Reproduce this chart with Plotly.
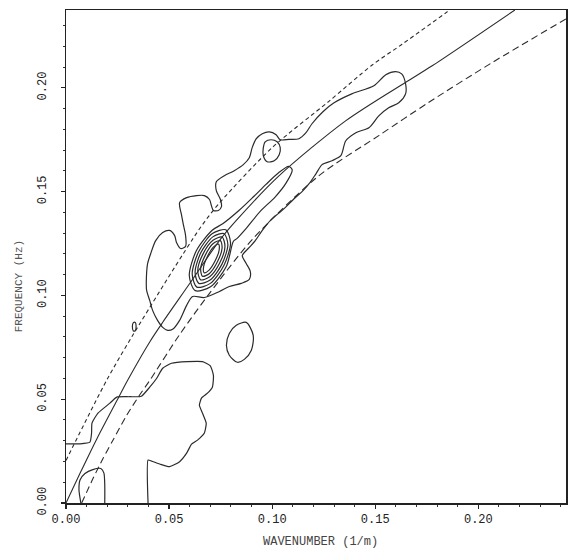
import plotly.graph_objects as go

# ---------------- data (wavenumber k in 1/m, frequency f in Hz) ----------------
# dispersion curve (solid)
disp_k = [0, 0.0068, 0.015, 0.0245, 0.0301, 0.0406, 0.047, 0.0599, 0.0744, 0.0825,
          0.1034, 0.1356, 0.1646, 0.1774, 0.2177]
disp_f = [0, 0.0143, 0.031, 0.049, 0.0595, 0.0776, 0.0872, 0.1056, 0.1264, 0.136,
          0.1577, 0.1841, 0.2026, 0.2105, 0.2375]

# upper bound (short dashes)
upper_k = [0, 0.0197, 0.0328, 0.0647, 0.0744, 0.1001, 0.1275, 0.1485, 0.163, 0.1847, 0.186]
upper_f = [0.0205, 0.0591, 0.0815, 0.132, 0.1445, 0.1713, 0.1935, 0.211, 0.221, 0.2365, 0.2375]

# lower bound (longer dashes)
lower_k = [0.0076, 0.0132, 0.018, 0.0229, 0.0293, 0.0357, 0.0406, 0.055, 0.0696, 0.0904,
           0.1227, 0.1517, 0.1758, 0.2064, 0.2425]
lower_f = [0, 0.012, 0.0215, 0.0305, 0.042, 0.052, 0.059, 0.081, 0.101, 0.127,
           0.1577, 0.177, 0.1929, 0.212, 0.2332]

# outer contour: band along the curve + left lobe
c1_k = [0.0551, 0.0585, 0.0633, 0.0671, 0.0696, 0.0705, 0.0715, 0.0739, 0.0754, 0.0749,
        0.0729, 0.0729, 0.0768, 0.0816, 0.0860, 0.0889, 0.0903, 0.0923, 0.0952, 0.0986,
        0.1019, 0.1039, 0.1082, 0.1130, 0.1164, 0.1193, 0.1246, 0.1300, 0.1386, 0.1493,
        0.1551, 0.1599, 0.1628, 0.1647, 0.1647, 0.1614, 0.1565, 0.1517, 0.1469, 0.1406,
        0.1357, 0.1333, 0.1290, 0.1242, 0.1213, 0.1179, 0.1145, 0.1106, 0.1063, 0.1029,
        0.0995, 0.0952, 0.0918, 0.0889, 0.0855, 0.0874, 0.0894, 0.0889, 0.0850, 0.0792,
        0.0744, 0.0671, 0.0614, 0.0585, 0.0551, 0.0517, 0.0493, 0.0469, 0.0444, 0.0420,
        0.0406, 0.0391, 0.0390, 0.0396, 0.0411, 0.0435, 0.0469, 0.0502, 0.0527, 0.0536,
        0.0556, 0.0580, 0.0580, 0.0570, 0.0560, 0.0551]
c1_f = [0.1447, 0.1471, 0.1481, 0.1481, 0.1462, 0.1433, 0.1409, 0.1409, 0.1428, 0.1462,
        0.1505, 0.1548, 0.1577, 0.1601, 0.1630, 0.1663, 0.1712, 0.1755, 0.1779, 0.1788,
        0.1774, 0.1750, 0.1752, 0.1755, 0.1784, 0.1827, 0.1885, 0.1928, 0.1971, 0.2010,
        0.2063, 0.2078, 0.2067, 0.2019, 0.1971, 0.1928, 0.1904, 0.1865, 0.1808, 0.1784,
        0.1745, 0.1673, 0.1649, 0.1630, 0.1587, 0.1538, 0.1500, 0.1466, 0.1423, 0.1394,
        0.1365, 0.1313, 0.1264, 0.1231, 0.1192, 0.1154, 0.1115, 0.1077, 0.1058, 0.1043,
        0.1019, 0.0990, 0.0995, 0.0952, 0.0880, 0.0837, 0.0832, 0.0846, 0.0880, 0.0928,
        0.0976, 0.1024, 0.1087, 0.1154, 0.1202, 0.1264, 0.1303, 0.1313, 0.1288, 0.1255,
        0.1226, 0.1236, 0.1288, 0.1337, 0.1389, 0.1447]

# second level: peak + tongue along the curve
c2_k = [0.0627, 0.0598, 0.0632, 0.0709, 0.0760, 0.0840, 0.0908, 0.0970, 0.1031, 0.1080,
        0.1097, 0.1067, 0.1014, 0.0943, 0.0873, 0.0830, 0.0812, 0.0778, 0.0701, 0.0627]
c2_f = [0.1023, 0.1095, 0.1215, 0.1314, 0.1345, 0.1410, 0.1474, 0.1535, 0.1591, 0.1622,
        0.1605, 0.1541, 0.1474, 0.1406, 0.1322, 0.1275, 0.1261, 0.1141, 0.1042, 0.1023]

# nested peak contours (levels 3..7)
c3_k = [0.0775, 0.0798, 0.0767, 0.0700, 0.0635, 0.0612, 0.0643, 0.0710, 0.0775]
c3_f = [0.1316, 0.1253, 0.1147, 0.1058, 0.1040, 0.1103, 0.1210, 0.1298, 0.1316]
c4_k = [0.0766, 0.0785, 0.0757, 0.0699, 0.0644, 0.0626, 0.0653, 0.0712, 0.0766]
c4_f = [0.1298, 0.1245, 0.1152, 0.1074, 0.1058, 0.1111, 0.1204, 0.1282, 0.1298]
c5_k = [0.0757, 0.0771, 0.0746, 0.0697, 0.0653, 0.0639, 0.0664, 0.0713, 0.0757]
c5_f = [0.1281, 0.1236, 0.1157, 0.1090, 0.1075, 0.1120, 0.1199, 0.1266, 0.1281]
c6_k = [0.0749, 0.0757, 0.0735, 0.0696, 0.0662, 0.0653, 0.0675, 0.0714, 0.0749]
c6_f = [0.1264, 0.1228, 0.1163, 0.1106, 0.1092, 0.1128, 0.1193, 0.1250, 0.1264]
c7_k = [0.0740, 0.0743, 0.0724, 0.0694, 0.0670, 0.0667, 0.0686, 0.0716, 0.0740]
c7_f = [0.1247, 0.1220, 0.1168, 0.1122, 0.1109, 0.1136, 0.1188, 0.1234, 0.1247]

# small loop inside the upper band
loop_k = [0.0966, 0.0995, 0.1024, 0.1039, 0.1034, 0.1010, 0.0976, 0.0957, 0.0957, 0.0966]
loop_f = [0.1740, 0.1750, 0.1740, 0.1712, 0.1678, 0.1649, 0.1644, 0.1673, 0.1712, 0.1740]

# isolated oval
oval_k = [0.0874, 0.0908, 0.0899, 0.0865, 0.0831, 0.0792, 0.0778, 0.0792, 0.0826, 0.0874]
oval_f = [0.0870, 0.0808, 0.0736, 0.0692, 0.0678, 0.0712, 0.0760, 0.0817, 0.0856, 0.0870]

# tiny closed contour on the upper bound
tiny_k = [0.0326, 0.0336, 0.0340, 0.0336, 0.0326, 0.0322, 0.0326]
tiny_f = [0.0868, 0.0870, 0.0851, 0.0830, 0.0830, 0.0851, 0.0868]

# low-frequency contour (open at the axes)
low_k = [0, 0.0068, 0.0116, 0.0124, 0.0126, 0.0155, 0.0213, 0.0246, 0.0309, 0.0365,
         0.0406, 0.0440, 0.0469, 0.0512, 0.0589, 0.0662, 0.0700, 0.0715, 0.0710, 0.0686,
         0.0657, 0.0647, 0.0662, 0.0680, 0.0671, 0.0638, 0.0609, 0.0585, 0.0551, 0.0502,
         0.0454, 0.0415, 0.0398, 0.0398]
low_f = [0.0285, 0.0285, 0.0293, 0.0337, 0.0385, 0.0433, 0.0481, 0.0510, 0.0512, 0.0514,
         0.0558, 0.0601, 0.0649, 0.0673, 0.0681, 0.0681, 0.0661, 0.0615, 0.0558, 0.0529,
         0.0505, 0.0471, 0.0433, 0.0385, 0.0337, 0.0303, 0.0284, 0.0240, 0.0199, 0.0175,
         0.0188, 0.0202, 0.0207, 0]

# small arch at the origin
arch_k = [0.0072, 0.0063, 0.0068, 0.0092, 0.0130, 0.0169, 0.0184, 0.0188, 0.0188]
arch_f = [0, 0.0063, 0.0111, 0.0142, 0.0161, 0.0166, 0.0144, 0.0087, 0]

x_ticks = [0, 0.05, 0.10, 0.15, 0.20]
x_labels = ["0.00", "0.05", "0.10", "0.15", "0.20"]
y_ticks = [0, 0.05, 0.10, 0.15, 0.20]
y_labels = ["0.00", "0.05", "0.10", "0.15", "0.20"]

# ---------------- figure ----------------
INK = "#2b2b2b"
fig = go.Figure()


def add(k, f, dash="solid", width=1.2, smooth=0.8):
    fig.add_trace(go.Scatter(
        x=k, y=f, mode="lines",
        line=dict(color=INK, width=width, dash=dash, shape="spline", smoothing=smooth),
        hoverinfo="skip", showlegend=False))


add(disp_k, disp_f, width=1.1)
add(upper_k, upper_f, dash="4px,3px", width=1.1)
add(lower_k, lower_f, dash="7px,4px", width=1.1)

for ck, cf in [(c1_k, c1_f), (c2_k, c2_f), (c3_k, c3_f), (c4_k, c4_f), (c5_k, c5_f),
               (c6_k, c6_f), (c7_k, c7_f), (loop_k, loop_f), (oval_k, oval_f),
               (tiny_k, tiny_f)]:
    add(ck, cf, width=1.2, smooth=0.8)

add(low_k, low_f, width=1.2, smooth=0.5)
add(arch_k, arch_f, width=1.2, smooth=0.6)

tickfont = dict(family="Liberation Mono", size=12, color="#222")
axis_common = dict(
    showline=True, linecolor="#222", linewidth=1.5, mirror=True,
    showgrid=False, zeroline=False,
    ticks="outside", ticklen=4, tickwidth=1.3, tickcolor="#222",
    minor=dict(ticks="outside", ticklen=2, tickwidth=1, tickcolor="#333",
               dtick=0.01, tick0=0, showgrid=False),
    tickfont=tickfont,
)

fig.update_layout(
    width=569, height=550, autosize=False,
    margin=dict(l=66, r=1, t=10, b=47),
    paper_bgcolor="white", plot_bgcolor="white",
    xaxis=dict(range=[0, 0.2425], tickvals=x_ticks, ticktext=x_labels, **axis_common),
    yaxis=dict(range=[0, 0.2375], tickvals=y_ticks, ticktext=y_labels,
               tickangle=-90, ticklabelstandoff=10, **axis_common),
    annotations=[
        dict(text="WAVENUMBER (1/m)", xref="paper", yref="paper", x=0.508, y=-0.079,
             xanchor="center", yanchor="middle", showarrow=False,
             font=dict(family="Liberation Mono", size=12, color="#444")),
        dict(text="FREQUENCY (Hz)", xref="paper", yref="paper", x=-0.0936, y=0.44,
             xanchor="center", yanchor="middle", showarrow=False, textangle=-90,
             font=dict(family="Liberation Mono", size=11, color="#555")),
    ],
)

fig.write_html("out.html",
               config={"displayModeBar": False, "staticPlot": True},
               post_script="document.body.style.margin='0px';document.body.style.padding='0px';")
